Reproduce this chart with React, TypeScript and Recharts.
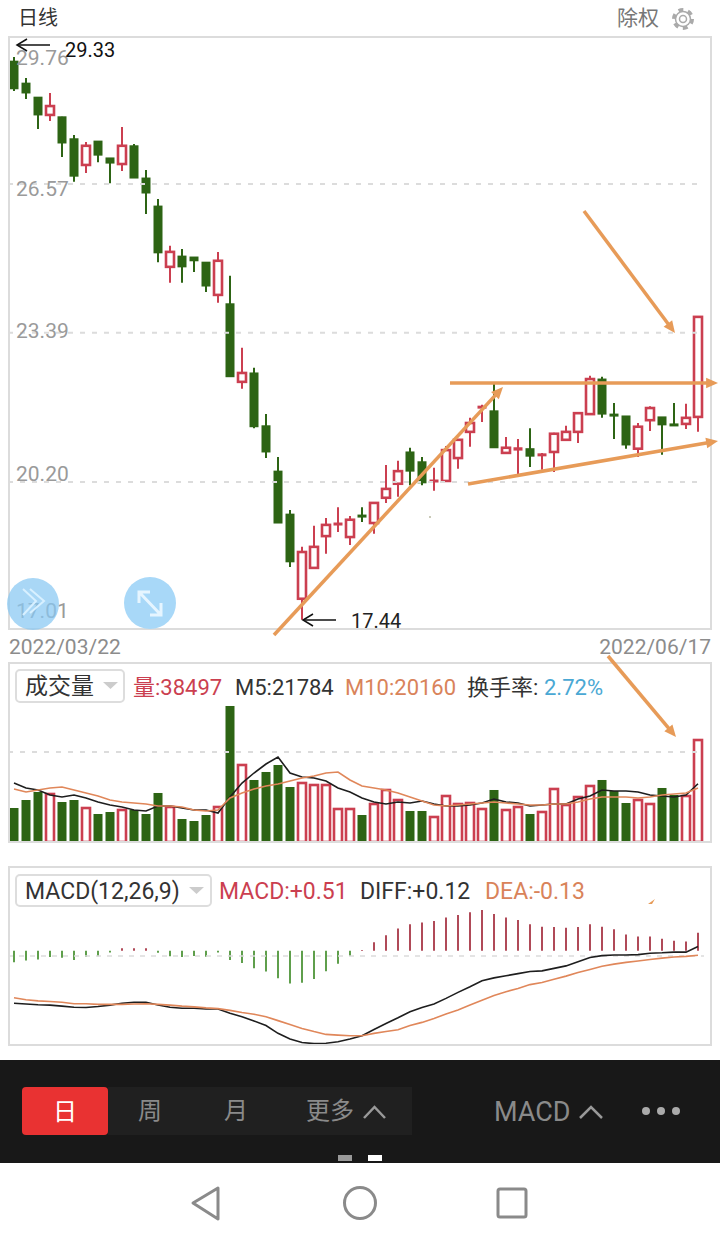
import React from 'react';
import { Bar, Cell, ComposedChart, Line, ReferenceLine, XAxis, YAxis } from 'recharts';

const opens = [29.2, 28.73, 28.43, 28.05, 28.01, 27.54, 26.98, 27.49, 27.13, 27.0, 27.39, 26.7, 26.1, 24.8, 25.03, 25.01, 24.9, 24.2, 24.01, 22.34, 22.53, 21.4, 20.43, 19.51, 17.7, 18.36, 19.04, 19.3, 19.02, 19.49, 19.32, 19.86, 20.16, 20.84, 20.63, 20.22, 20.22, 20.71, 21.27, 21.8, 21.72, 20.82, 20.88, 20.91, 20.78, 20.84, 21.1, 21.27, 21.65, 22.4, 21.65, 21.61, 20.91, 21.52, 21.59, 21.44, 21.44, 21.59];
const closes = [28.61, 28.52, 28.05, 28.24, 27.45, 26.74, 27.39, 27.19, 27.02, 27.39, 26.7, 26.38, 25.1, 25.12, 24.8, 24.93, 24.39, 24.93, 22.45, 22.53, 21.38, 20.84, 19.32, 18.49, 18.7, 18.81, 19.28, 19.32, 19.39, 19.47, 19.75, 20.05, 20.43, 20.43, 20.18, 20.24, 20.88, 21.1, 21.46, 21.82, 20.93, 20.93, 20.93, 20.75, 20.8, 21.23, 21.27, 21.67, 22.4, 21.65, 21.63, 20.99, 21.38, 21.78, 21.42, 21.42, 21.57, 23.73];
const highs = [29.29, 28.84, 28.43, 28.52, 28.01, 27.62, 27.47, 27.49, 27.13, 27.79, 27.43, 26.87, 26.25, 25.25, 25.18, 25.01, 24.9, 25.12, 24.61, 23.07, 22.64, 21.65, 20.73, 19.6, 18.81, 19.26, 19.43, 19.66, 19.47, 19.66, 19.75, 20.56, 20.65, 20.93, 20.73, 20.5, 20.97, 21.1, 21.57, 21.85, 22.3, 21.16, 21.12, 21.35, 20.82, 21.25, 21.4, 21.67, 22.47, 22.45, 21.89, 21.61, 21.46, 21.82, 21.59, 21.89, 21.87, 23.73];
const lows = [28.56, 28.39, 27.75, 27.92, 27.15, 26.62, 26.81, 27.04, 26.59, 26.85, 26.7, 25.93, 24.9, 24.46, 24.46, 24.69, 24.26, 24.03, 22.45, 22.19, 21.35, 20.71, 19.32, 18.38, 17.25, 18.36, 18.66, 19.13, 18.85, 19.34, 19.09, 19.75, 19.88, 20.13, 20.13, 20.01, 20.22, 20.48, 20.95, 21.48, 20.93, 20.8, 20.37, 20.52, 20.46, 20.41, 21.1, 21.03, 21.65, 21.57, 21.12, 20.91, 20.73, 21.29, 20.78, 21.42, 21.33, 21.27];

const volumes = [12710, 15700, 18690, 18320, 14950, 15700, 13080, 10470, 11210, 12340, 11960, 10470, 18320, 13460, 8600, 7850, 10090, 13460, 50840, 29160, 23180, 26170, 28780, 20560, 22430, 21680, 21680, 12710, 12710, 10090, 14580, 19810, 16070, 11590, 11590, 9720, 17570, 14580, 14950, 12710, 19440, 12340, 13460, 10470, 11590, 20190, 14200, 17190, 21310, 23180, 19060, 14580, 16070, 14580, 20190, 17570, 17570, 38497];
const m5 = [22050, 20190, 19440, 17570, 16820, 17570, 16450, 14950, 13830, 13080, 11960, 11590, 13460, 13460, 12710, 11960, 11960, 10840, 16820, 22050, 25790, 29160, 31770, 25790, 24300, 23920, 22800, 20190, 18690, 16450, 14950, 14200, 14950, 14580, 15330, 14200, 13460, 13460, 13830, 14580, 16070, 14950, 14580, 13460, 13830, 14200, 14200, 16070, 17190, 19440, 19060, 19060, 18690, 17570, 17190, 16820, 17570, 21784];
const m10 = [19810, 18690, 19440, 20190, 20560, 19440, 18320, 17190, 15700, 14950, 14580, 14200, 13460, 13460, 13080, 11960, 11590, 11960, 16450, 18320, 19810, 20930, 21680, 22800, 23920, 24670, 25790, 26170, 23180, 20930, 20190, 19440, 18320, 16820, 15330, 13830, 13460, 13830, 14200, 14580, 14950, 14580, 14200, 13830, 13830, 14200, 14200, 14950, 16070, 16820, 16820, 16820, 16450, 16820, 17570, 17940, 18320, 20160];

const macd = [-0.33, -0.28, -0.25, -0.18, -0.2, -0.26, -0.18, -0.16, -0.05, 0.07, 0.07, 0.07, -0.06, -0.16, -0.18, -0.15, -0.17, -0.05, -0.26, -0.35, -0.5, -0.59, -0.78, -0.93, -0.91, -0.8, -0.58, -0.37, -0.15, 0.02, 0.24, 0.44, 0.63, 0.75, 0.8, 0.84, 0.94, 1.01, 1.09, 1.15, 1.04, 0.94, 0.87, 0.75, 0.68, 0.67, 0.65, 0.67, 0.75, 0.68, 0.61, 0.46, 0.4, 0.4, 0.34, 0.28, 0.26, 0.51];
const diff = [-1.49, -1.51, -1.53, -1.54, -1.57, -1.6, -1.61, -1.58, -1.54, -1.49, -1.46, -1.46, -1.54, -1.6, -1.63, -1.63, -1.65, -1.65, -1.77, -1.87, -1.99, -2.12, -2.34, -2.5, -2.6, -2.63, -2.62, -2.58, -2.5, -2.41, -2.23, -2.06, -1.9, -1.73, -1.61, -1.51, -1.35, -1.18, -1.02, -0.85, -0.77, -0.71, -0.65, -0.59, -0.57, -0.5, -0.43, -0.31, -0.19, -0.14, -0.12, -0.12, -0.11, -0.07, -0.06, -0.04, -0.04, 0.12];
const dea = [-1.33, -1.39, -1.42, -1.44, -1.46, -1.5, -1.5, -1.52, -1.52, -1.52, -1.51, -1.5, -1.52, -1.54, -1.57, -1.59, -1.62, -1.64, -1.69, -1.75, -1.8, -1.87, -1.98, -2.09, -2.2, -2.29, -2.37, -2.39, -2.41, -2.41, -2.34, -2.29, -2.24, -2.12, -2.03, -1.92, -1.79, -1.68, -1.54, -1.4, -1.27, -1.16, -1.07, -0.96, -0.9, -0.81, -0.72, -0.62, -0.53, -0.44, -0.38, -0.33, -0.29, -0.25, -0.21, -0.18, -0.16, -0.13];

const priceTicks = [29.76, 26.57, 23.39, 20.2, 17.01];
const dates = ['2022/03/22', '2022/06/17'];

const RED = '#cb3f50';
const GREEN = '#2d6414';
const GRID = '#dcdcdc';
const ORANGE_LINE = '#e0875a';
const FONT = 'Roboto, "Noto Sans CJK SC", sans-serif';

const rows = opens.map((open, i) => ({
  i,
  open,
  close: closes[i],
  high: highs[i],
  low: lows[i],
  range: [lows[i], highs[i]],
  up: closes[i] >= open,
  volume: volumes[i],
  m5: m5[i],
  m10: m10[i],
  macd: macd[i],
  diff: diff[i],
  dea: dea[i]
}));

function Candle(props: any) {
  const { x, y, width, height, payload } = props;
  const k = height / (payload.high - payload.low);
  const top = y + (payload.high - Math.max(payload.open, payload.close)) * k;
  const h = Math.abs(payload.open - payload.close) * k;
  const cx = x + width / 2;
  const color = payload.up ? RED : GREEN;
  return (
    <g>
      <line x1={cx} x2={cx} y1={y} y2={y + height} stroke={color} strokeWidth={2} />
      {payload.up && h > 3 ?
      <rect x={x} y={top} width={width} height={h} fill="#fff" stroke={color} strokeWidth={2.6} /> :
      <rect x={x - 0.5} y={top - 0.5} width={width + 1} height={Math.max(h, 2) + 1} fill={color} />
      }
    </g>);

}

function VolumeBar(props: any) {
  const { x, y, width, height, payload } = props;
  if (payload.up) {
    return <rect x={x} y={y + 1} width={width} height={height - 1} fill="#fff" stroke={RED} strokeWidth={2.6} />;
  }
  return <rect x={x - 0.5} y={y} width={width + 1} height={height} fill={GREEN} />;
}

function PriceTick(props: any) {
  const { y, payload } = props;
  // labels sit off their gridlines in the app, top and bottom ones pushed inside the pane
  const shift: Record<string, number> = { '29.76': 23, '26.57': 5, '23.39': -2, '20.2': -8, '17.01': -20 };
  return (
    <text x={16} y={y + shift[String(payload.value)]} dominantBaseline="central" fontSize={21} fill="#9a9a9a" fontFamily={FONT}>
      {Number(payload.value).toFixed(2)}
    </text>);

}

function Arrow({ x1, y1, x2, y2, w = 3.5 }: any) {
  const a = Math.atan2(y2 - y1, x2 - x1);
  const s = 13;
  const p = (d: number) => `${x2 - s * Math.cos(a + d)},${y2 - s * Math.sin(a + d)}`;
  return (
    <g>
      <line x1={x1} y1={y1} x2={x2 - 6 * Math.cos(a)} y2={y2 - 6 * Math.sin(a)} stroke="#e79b58" strokeWidth={w} />
      <polygon points={`${x2},${y2} ${p(0.42)} ${p(-0.42)}`} fill="#e79b58" />
    </g>);

}

function T({ x, y, size = 22, color = '#333', anchor = 'start', children }: any) {
  return (
    <text x={x} y={y} fontSize={size} fill={color} textAnchor={anchor} dominantBaseline="central" fontFamily={FONT}>
      {children}
    </text>);

}

function Overlay() {
  return (
    <svg width={720} height={1243} style={{ position: 'absolute', left: 0, top: 0, pointerEvents: 'none' }}>
      <T x={18} y={18} size={20}>日线</T>
      <T x={617} y={18} size={21} color="#777">除权</T>
      <circle cx={683} cy={19} r={8.5} fill="none" stroke="#aaa" strokeWidth={5} strokeDasharray="4.5 4.4" />
      <circle cx={683} cy={19} r={7.5} fill="#fff" stroke="#aaa" strokeWidth={1.5} />
      <circle cx={683} cy={19} r={3.5} fill="none" stroke="#aaa" strokeWidth={1.5} />

      <rect x={9} y={37} width={702} height={592} fill="none" stroke="#dcdcdc" strokeWidth={2} />
      <rect x={9} y={663} width={702} height={179} fill="none" stroke="#dcdcdc" strokeWidth={2} />
      <rect x={9} y={867} width={702} height={178} fill="none" stroke="#dcdcdc" strokeWidth={2} />

      <T x={9} y={647} size={21} color="#8c8c8c">{dates[0]}</T>
      <T x={711} y={647} size={21} color="#8c8c8c" anchor="end">{dates[1]}</T>

      <line x1={17} y1={45} x2={50} y2={45} stroke="#111" strokeWidth={1.5} />
      <path d="M27 39 L17 45 L27 51" fill="none" stroke="#111" strokeWidth={1.5} />
      <T x={65} y={50} size={20} color="#111">29.33</T>
      <line x1={303} y1={620} x2={336} y2={620} stroke="#111" strokeWidth={1.5} />
      <path d="M313 614 L303 620 L313 626" fill="none" stroke="#111" strokeWidth={1.5} />
      <T x={351} y={621} size={20} color="#222">17.44</T>

      <rect x={16} y={670} width={108} height={32} rx={4} fill="#fff" stroke="#ddd" strokeWidth={2} />
      <T x={25} y={686} size={23}>成交量</T>
      <polygon points="103,682 118,682 110.5,689" fill="#ccc" />
      <T x={133} y={687} size={22} color={RED}>量:38497</T>
      <T x={235} y={687} size={22}>M5:21784</T>
      <T x={345} y={687} size={22} color="#d9835a">M10:20160</T>
      <T x={467} y={687} size={22}>换手率:</T>
      <T x={544} y={687} size={22} color="#4aa8d4">2.72%</T>

      <rect x={16} y={875} width={195} height={31} rx={4} fill="#fff" stroke="#ddd" strokeWidth={2} />
      <T x={25} y={891} size={23}>MACD(12,26,9)</T>
      <polygon points="189,887 204,887 196.5,894" fill="#ccc" />
      <T x={219} y={891} size={23} color={RED}>MACD:+0.51</T>
      <T x={360} y={891} size={23}>DIFF:+0.12</T>
      <T x={485} y={891} size={23} color="#d9835a">DEA:-0.13</T>

      <Arrow x1={274} y1={635} x2={503} y2={387} />
      <Arrow x1={450} y1={383} x2={718} y2={383} />
      <Arrow x1={468} y1={484} x2={718} y2={441} />
      <Arrow x1={584} y1={211} x2={675} y2={333} />
      <Arrow x1={608} y1={656} x2={676} y2={737} />
      <path d="M648 904 L655 899 L652 904 Z" fill="#e79b58" />
      <circle cx={430} cy={517} r={1} fill="#b8b8a0" />

      <circle cx={33} cy={604} r={26} fill="#88c8f2" opacity={0.72} />
      <path d="M23 589 L36 601 L23 615 M30 589 L44 601 L30 613" fill="none" stroke="#d8f0ff" strokeWidth={2} />
      <circle cx={150} cy={603} r={26} fill="#a8d8f8" />
      <path d="M140 593 L160 614 M139 603 L139 592 L150 592 M161 603 L161 615 L150 615" fill="none" stroke="#e6f5ff" strokeWidth={3} />

      <rect x={0} y={1060} width={720} height={103} fill="#181818" />
      <rect x={108} y={1087} width={304} height={48} fill="#202020" />
      <rect x={22} y={1087} width={86} height={48} rx={4} fill="#e93232" />
      <T x={65} y={1112} size={24} color="#fff" anchor="middle">日</T>
      <T x={150} y={1111} size={24} color="#8a8a8a" anchor="middle">周</T>
      <T x={236} y={1111} size={24} color="#8a8a8a" anchor="middle">月</T>
      <T x={330} y={1111} size={24} color="#8a8a8a" anchor="middle">更多</T>
      <path d="M364 1118 L374.5 1107 L385 1118" fill="none" stroke="#999" strokeWidth={2.5} />
      <T x={494} y={1112} size={27} color="#8a8a8a">MACD</T>
      <path d="M580 1118 L591 1107 L602 1118" fill="none" stroke="#999" strokeWidth={2.5} />
      <circle cx={646} cy={1111} r={4} fill="#aaa" />
      <circle cx={661} cy={1111} r={4} fill="#aaa" />
      <circle cx={676} cy={1111} r={4} fill="#aaa" />
      <rect x={338} y={1155} width={14} height={6} fill="#999" />
      <rect x={368} y={1155} width={14} height={6} fill="#fff" />

      <path d="M218 1188 L193 1203 L218 1219 Z" fill="none" stroke="#8a8a8a" strokeWidth={3} strokeLinejoin="round" />
      <circle cx={360} cy={1203} r={15.5} fill="none" stroke="#8a8a8a" strokeWidth={3} />
      <rect x={498} y={1189} width={28} height={28} rx={2} fill="none" stroke="#8a8a8a" strokeWidth={3} />
    </svg>);

}

export default function App() {
  const margin = { left: 8, right: 16, top: 0, bottom: 0 };
  return (
    <div style={{ position: 'absolute', left: 0, top: 0, width: 720, height: 1243, background: '#fff', overflow: 'hidden' }}>
      <div style={{ position: 'absolute', left: 0, top: 35 }}>
        <ComposedChart width={720} height={596} data={rows} margin={{ ...margin, left: 7 }}>
          <XAxis dataKey="i" hide />
          <YAxis
            type="number"
            domain={[17.01, 29.76]}
            ticks={priceTicks}
            width={1}
            allowDataOverflow
            axisLine={false}
            tickLine={false}
            interval={0}
            tick={PriceTick} />
          {priceTicks.slice(1, 4).map((t) =>
          <ReferenceLine key={t} y={t} stroke={GRID} strokeDasharray="5 7" strokeWidth={2} />
          )}
          <Bar dataKey="range" barSize={8} shape={<Candle />} isAnimationActive={false} />
        </ComposedChart>
      </div>

      <div style={{ position: 'absolute', left: 0, top: 663 }}>
        <ComposedChart width={720} height={179} data={rows} margin={margin}>
          <XAxis dataKey="i" hide />
          <YAxis domain={[0, 66910]} hide allowDataOverflow />
          <ReferenceLine y={33640} stroke={GRID} strokeDasharray="5 7" strokeWidth={2} />
          <Bar dataKey="volume" barSize={8} shape={<VolumeBar />} isAnimationActive={false} />
          <Line dataKey="m5" stroke="#1e1e1e" strokeWidth={1.6} dot={false} isAnimationActive={false} />
          <Line dataKey="m10" stroke={ORANGE_LINE} strokeWidth={1.6} dot={false} isAnimationActive={false} />
        </ComposedChart>
      </div>

      <div style={{ position: 'absolute', left: 0, top: 867 }}>
        <ComposedChart width={720} height={178} data={rows} margin={margin}>
          <XAxis dataKey="i" hide />
          <YAxis domain={[-2.67, 2.37]} hide allowDataOverflow />
          <ReferenceLine y={-0.15} stroke={GRID} strokeDasharray="5 6" strokeWidth={1.5} />
          <Bar dataKey="macd" barSize={2} isAnimationActive={false}>
            {rows.map((r) =>
            <Cell key={r.i} fill={r.macd >= 0 ? '#b04a58' : '#5f9f4c'} />
            )}
          </Bar>
          <Line dataKey="diff" stroke="#1e1e1e" strokeWidth={1.6} dot={false} isAnimationActive={false} />
          <Line dataKey="dea" stroke={ORANGE_LINE} strokeWidth={1.6} dot={false} isAnimationActive={false} />
        </ComposedChart>
      </div>

      <Overlay />
    </div>);

}
